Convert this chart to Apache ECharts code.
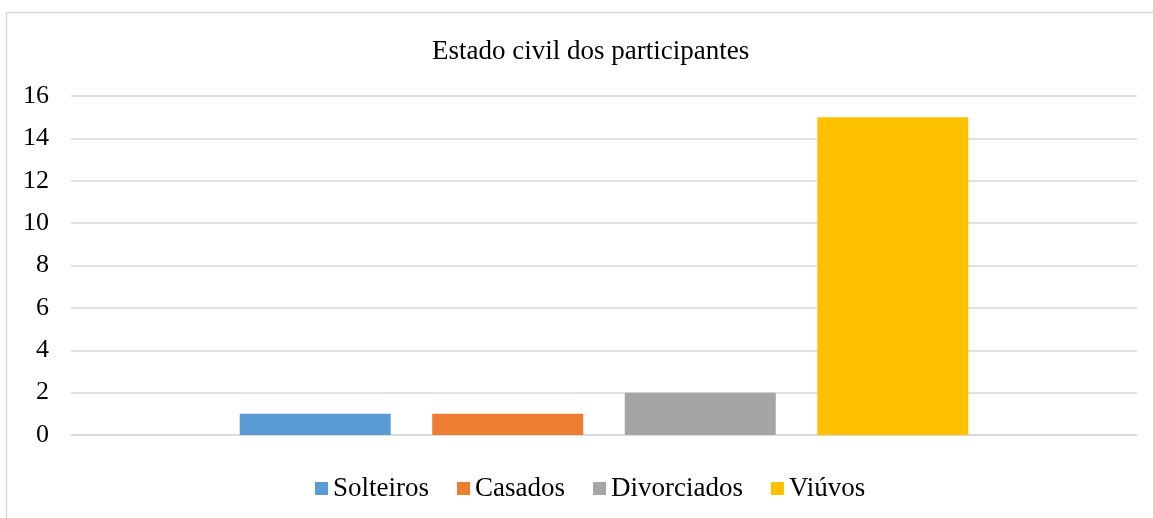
<!DOCTYPE html>
<html>
<head>
<meta charset="utf-8">
<script src="https://cdn.jsdelivr.net/npm/echarts@6/dist/echarts.min.js"></script>
<style>
  html, body { margin: 0; padding: 0; background: #fff; }
  #chart { width: 1153px; height: 518px; }
</style>
</head>
<body>
<div id="chart"></div>
<script>
// dados
const categories = ['']
const seriesNames = ['Solteiros', 'Casados', 'Divorciados', 'Viúvos']
const seriesValues = [1, 1, 2, 15]
const colors = ['#5B9BD5', '#ED7D31', '#A5A5A5', '#FFC000']
const yTicks = [0, 2, 4, 6, 8, 10, 12, 14, 16]

const chart = echarts.init(document.getElementById('chart'))
const font = '"Liberation Serif", "Times New Roman", serif'

const option = {
  backgroundColor: '#fff',
  textStyle: { fontFamily: font },
  graphic: [{
    type: 'rect',
    shape: { x: 6.5, y: 12.5, width: 1300, height: 700 },
    style: { fill: 'none', stroke: '#d9d9d9', lineWidth: 1.5 },
    silent: true
  }],
  title: {
    text: 'Estado civil dos participantes',
    left: 427,
    top: 33,
    textStyle: { fontFamily: font, fontSize: 27, fontWeight: 'normal', color: '#000' }
  },
  legend: {
    data: seriesNames,
    top: 470,
    left: 310,
    itemWidth: 13,
    itemHeight: 13,
    itemGap: 28,
    icon: 'rect',
    textStyle: { fontFamily: font, fontSize: 27, color: '#000' }
  },
  grid: { left: 71, right: 16, top: 96, bottom: 83 },
  xAxis: {
    type: 'category',
    data: categories,
    axisLine: { lineStyle: { color: '#d9d9d9', width: 1.5 } },
    axisTick: { show: false },
    axisLabel: { show: false }
  },
  yAxis: {
    type: 'value',
    min: yTicks[0],
    max: yTicks[yTicks.length - 1],
    interval: 2,
    axisLine: { show: false },
    axisTick: { show: false },
    axisLabel: { margin: 22, fontFamily: font, fontSize: 26, color: '#000' },
    splitLine: { lineStyle: { color: '#d9d9d9', width: 1.5 } }
  },
  series: seriesNames.map((name, i) => ({
    name: name,
    type: 'bar',
    data: [seriesValues[i]],
    barWidth: 151,
    barGap: '27.5%',
    itemStyle: { color: colors[i] }
  }))
}

chart.setOption(option)
</script>
</body>
</html>
